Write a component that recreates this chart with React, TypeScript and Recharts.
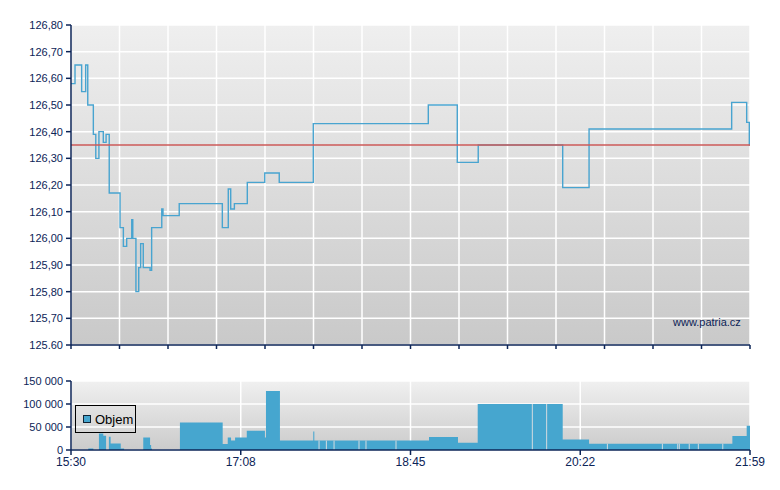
import {
  LineChart,
  Line,
  AreaChart,
  Area,
  XAxis,
  YAxis,
  CartesianGrid,
  ReferenceLine,
} from 'recharts'

// minutes since 15:30 and trade price
const priceTimes = [
  0, 2.3, 6.1, 8.4, 9.6, 12.8, 14.2, 16.0, 18.5, 20.1, 21.9, 28.1, 30.0, 31.9, 34.8, 35.4,
  37.2, 38.8, 39.9, 41.4, 45.3, 46.2, 52.0, 52.7, 62.0, 86.7, 90.1, 91.5, 93.6, 101.0, 111.0,
  119.3, 138.8, 204.7, 221.3, 233.3, 281.7, 296.8, 378.5, 387.1, 388.6, 389,
]
const prices = [
  126.58, 126.65, 126.55, 126.65, 126.5, 126.39, 126.3, 126.4, 126.36, 126.39, 126.17, 126.04,
  125.97, 126.0, 126.07, 126.0, 125.8, 125.89, 125.98, 125.89, 125.88, 126.04, 126.11, 126.085,
  126.13, 126.04, 126.185, 126.11, 126.13, 126.21, 126.245, 126.21, 126.43, 126.5, 126.285,
  126.35, 126.19, 126.41, 126.51, 126.435, 126.35, 126.35,
]
const previousClose = 126.35

// traded volume, each value holds until the next time
const volumeTimes = [
  0, 9.9, 12.8, 16.0, 18.5, 20.1, 21.7, 22.7, 28.5, 30.4, 41.4, 45.3, 45.9, 46.4, 62.4, 86.9,
  89.8, 91.7, 94.0, 100.7, 111.1, 111.7, 119.7, 138.8, 139.4, 205.1, 221.7, 233.0, 281.7, 296.8,
  378.9, 387.1, 389,
]
const volumes = [
  0, 3000, 0, 36000, 31000, 0, 29000, 14000, 3000, 0, 27000, 11000, 3000, 0, 60000, 13000, 27000,
  20500, 27000, 41700, 27000, 128000, 20500, 40000, 20500, 28500, 16000, 100000, 22600, 13800,
  30700, 52700, 52700,
]
// thin gaps between neighbouring volume blocks of the same height
const volumeSplits = [
  142.1, 146.3, 150.7, 165.0, 169.0, 186.2, 264.3, 272.5, 307.3, 338.8, 347.6, 348.5, 354.2,
  359.4, 373.4,
]

const priceTicks = [125.6, 125.7, 125.8, 125.9, 126.0, 126.1, 126.2, 126.3, 126.4, 126.5, 126.6, 126.7, 126.8]
const volumeTicks = [0, 50000, 100000, 150000]
const timeLabels = ['15:30', '17:08', '18:45', '20:22', '21:59']

const END = 389
const NAVY = '#0c2457'
const FONT = "Arial, 'Liberation Sans', sans-serif"

const priceData = priceTimes.map((t, i) => ({ t, p: prices[i], close: previousClose }))
const volumeData = volumeTimes.map((t, i) => ({ t, v: volumes[i] }))
const priceGridTicks = Array.from({ length: 15 }, (_, i) => (END * i) / 14)
const timeTicks = Array.from({ length: 5 }, (_, i) => (END * i) / 4)

const volumeAt = (t: number) => {
  let v = 0
  for (let i = 0; i < volumeTimes.length; i++) {
    if (volumeTimes[i] <= t) v = volumes[i]
  }
  return v
}

// the source prints the lowest tick with a dot, the rest with a comma
const fmtPrice = (v: number) =>
  Math.abs(v - 125.6) < 0.001 ? '125.60' : v.toFixed(2).replace('.', ',')

const fmtVolume = (v: number) => String(v).replace(/\B(?=(\d{3})+(?!\d))/g, ' ')

const fmtTime = (v: number) => {
  const i = timeTicks.findIndex((t) => Math.abs(t - v) < 0.01)
  return i >= 0 ? timeLabels[i] : ''
}

export default function App() {
  return (
    <div
      style={{
        position: 'absolute',
        left: 0,
        top: 0,
        width: 780,
        height: 490,
        background: '#fff',
        fontFamily: FONT,
      }}
    >
      <LineChart
        width={780}
        height={360}
        data={priceData}
        margin={{ top: 25, right: 30, bottom: 10, left: 0 }}
      >
        <defs>
          <linearGradient id="priceBg" x1="0" y1="0" x2="0" y2="1">
            <stop offset="0%" stopColor="#efefef" />
            <stop offset="100%" stopColor="#c9c9c9" />
          </linearGradient>
        </defs>
        <CartesianGrid fill="url(#priceBg)" fillOpacity={1} stroke="#ffffff" strokeWidth={1.5} />
        <XAxis
          type="number"
          dataKey="t"
          domain={[0, END]}
          ticks={priceGridTicks}
          tickFormatter={() => ''}
          height={5}
          tickSize={4}
          stroke={NAVY}
          strokeWidth={1.5}
          allowDataOverflow
        />
        <YAxis
          type="number"
          domain={[125.6, 126.8]}
          ticks={priceTicks}
          tickFormatter={fmtPrice}
          width={71}
          tickSize={5}
          tickMargin={3}
          stroke={NAVY}
          strokeWidth={1.5}
          tick={{ fill: NAVY, fontSize: 11, fontFamily: FONT }}
          interval={0}
        />
        <Line
          type="stepAfter"
          dataKey="p"
          stroke="#48a4d0"
          strokeWidth={1.4}
          dot={false}
          isAnimationActive={false}
        />
        <Line
          type="linear"
          dataKey="close"
          stroke="#cc5a58"
          strokeWidth={1.5}
          dot={false}
          isAnimationActive={false}
        />
      </LineChart>

      <div
        style={{
          position: 'absolute',
          left: 673,
          top: 316,
          fontSize: 11,
          color: NAVY,
        }}
      >
        www.patria.cz
      </div>

      <div style={{ position: 'absolute', left: 0, top: 360 }}>
        <AreaChart
          width={780}
          height={130}
          data={volumeData}
          margin={{ top: 21, right: 30, bottom: 10, left: 0 }}
        >
          <defs>
            <linearGradient id="volBg" x1="0" y1="0" x2="0" y2="1">
              <stop offset="0%" stopColor="#f0f0f0" />
              <stop offset="100%" stopColor="#cbcbcb" />
            </linearGradient>
          </defs>
          <CartesianGrid fill="url(#volBg)" fillOpacity={1} stroke="#ffffff" strokeWidth={1.5} />
          <XAxis
            type="number"
            dataKey="t"
            domain={[0, END]}
            ticks={timeTicks}
            tickFormatter={fmtTime}
            height={30}
            tickSize={5}
            tickMargin={2}
            stroke={NAVY}
            strokeWidth={1.5}
            tick={{ fill: NAVY, fontSize: 12, fontFamily: FONT }}
            interval={0}
          />
          <YAxis
            type="number"
            domain={[0, 150000]}
            ticks={volumeTicks}
            tickFormatter={fmtVolume}
            width={71}
            tickSize={5}
            tickMargin={3}
            stroke={NAVY}
            strokeWidth={1.5}
            tick={{ fill: NAVY, fontSize: 11, fontFamily: FONT }}
            interval={0}
          />
          <Area
            type="stepAfter"
            dataKey="v"
            stroke="none"
            fill="#46a6cf"
            fillOpacity={1}
            isAnimationActive={false}
          />
          {volumeSplits.map((t) => (
            <ReferenceLine
              key={t}
              segment={[
                { x: t, y: 0 },
                { x: t, y: volumeAt(t) },
              ]}
              stroke="#d4dbe0"
              strokeWidth={1}
            />
          ))}
        </AreaChart>

        <div
          style={{
            position: 'absolute',
            left: 75,
            top: 45,
            width: 59,
            height: 26,
            border: '1px solid #000',
            display: 'flex',
            alignItems: 'center',
            fontSize: 13,
            color: '#000',
          }}
        >
          <span
            style={{
              display: 'inline-block',
              width: 6,
              height: 6,
              marginLeft: 7,
              marginRight: 4,
              background: '#46a6cf',
              border: '1px solid #123',
            }}
          />
          Objem
        </div>
      </div>
    </div>
  )
}
